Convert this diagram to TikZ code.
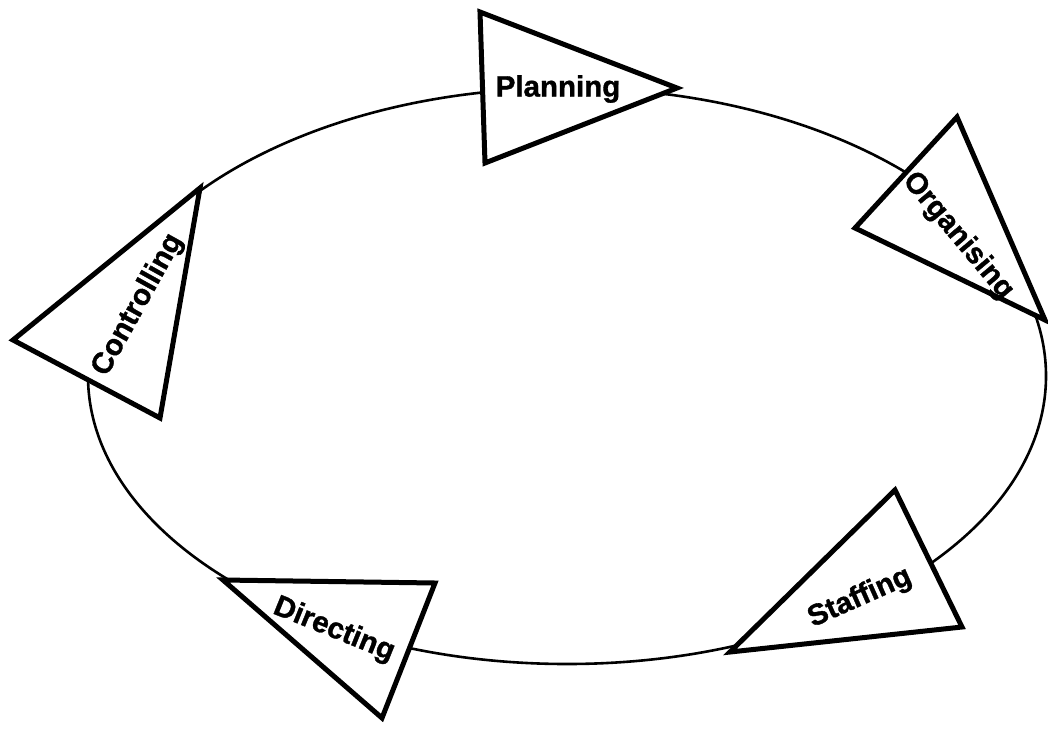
\documentclass[tikz,border=0pt]{standalone}
\usepackage{fontspec}
\newfontfamily\labfont[FakeBold=1.2]{Liberation Sans}
\begin{document}
\begin{tikzpicture}[x=1pt,y=1pt,
  tri/.style={draw=black,fill=white,line width=5pt,line join=miter},
  lab/.style={font=\labfont\bfseries\fontsize{29.5}{31}\selectfont,inner sep=0pt,anchor=center}]
\useasboundingbox (0,0) rectangle (1048,-728);
\fill[white] (0,0) rectangle (1048,-728);
% cycle ellipse
\draw[line width=2.6pt] (567,-376) ellipse [x radius=479, y radius=288];
% Planning
\coordinate (p1) at (480,-12);
\coordinate (p2) at (485,-163);
\coordinate (p3) at (677,-88);
\draw[tri] (p1) -- (p3) -- (p2) -- cycle;
\node[lab] (planning) at (558,-89) {Planning};
% Organising
\coordinate (o1) at (957,-117);
\coordinate (o2) at (855,-228);
\coordinate (o3) at (1045,-320);
\draw[tri] (o1) -- (o3) -- (o2) -- cycle;
\node[lab,rotate=-50] (organising) at (958,-236) {Organising};
% Staffing
\coordinate (s1) at (895,-490);
\coordinate (s2) at (962,-627);
\coordinate (s3) at (730,-652);
\draw[tri] (s1) -- (s2) -- (s3) -- cycle;
\node[lab,rotate=24] (staffing) at (860,-598) {Staffing};
% Directing
\coordinate (d1) at (223,-580);
\coordinate (d2) at (435,-583);
\coordinate (d3) at (382,-718);
\draw[tri] (d1) -- (d2) -- (d3) -- cycle;
\node[lab,rotate=-22] (directing) at (334,-630) {Directing};
% Controlling
\coordinate (c1) at (200,-188);
\coordinate (c2) at (13,-340);
\coordinate (c3) at (160,-418);
\draw[tri] (c1) -- (c2) -- (c3) -- cycle;
\node[lab,rotate=61] (controlling) at (138,-305) {Controlling};
\end{tikzpicture}
\end{document}
